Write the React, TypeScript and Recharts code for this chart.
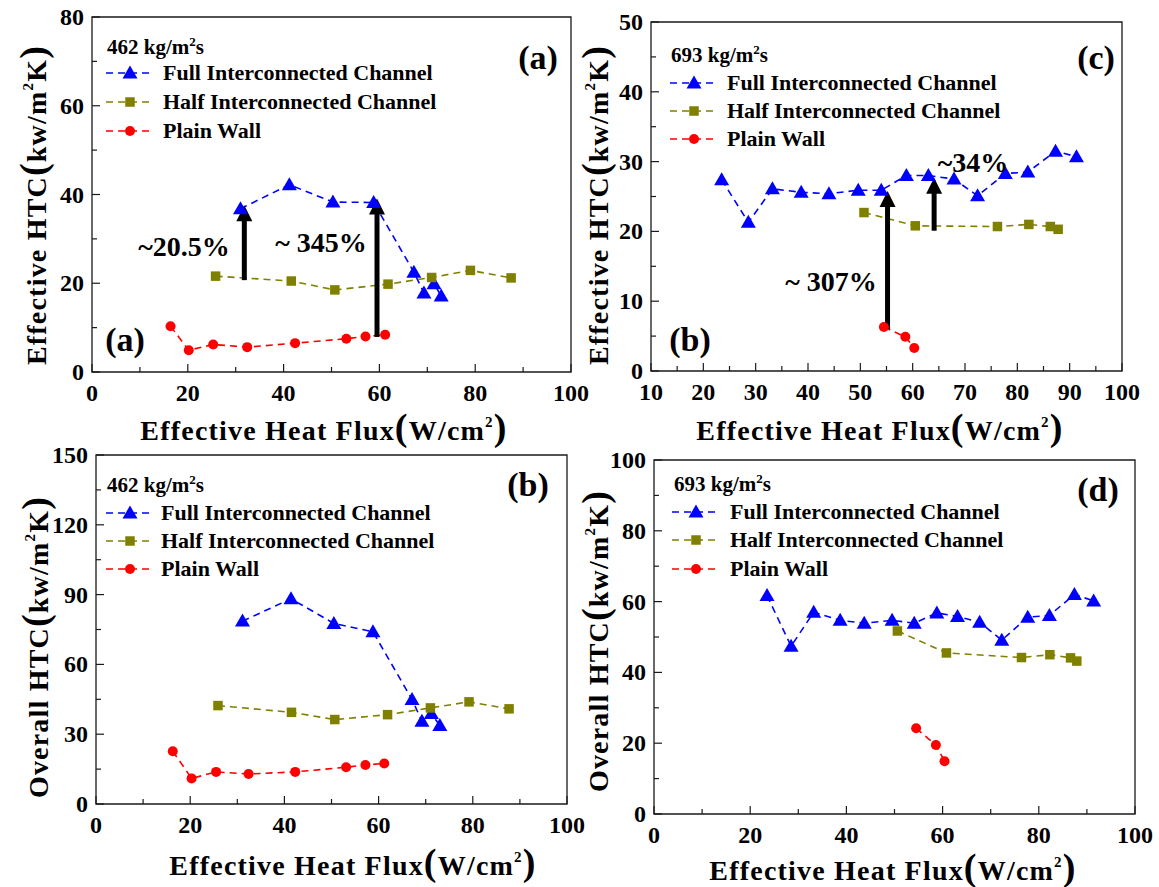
import React from 'react'
import { LineChart, Line, XAxis, YAxis, ReferenceArea, ReferenceLine } from 'recharts'

const FONT = '"Liberation Serif", "Times New Roman", serif'
const INK = '#000'
const FRAME = '#1a1a1a'
const BLUE = '#0000ff'
const OLIVE = '#808000'
const RED = '#ff0000'

type Pt = [number, number]

// effective HTC (kW/m2K) vs effective heat flux (W/cm2), G = 462 kg/m2s
const effFull462: Pt[] = [[31.0, 36.8], [41.2, 42.2], [50.3, 38.3], [58.8, 38.2], [67.2, 22.5], [69.3, 17.8], [71.4, 19.9], [72.9, 17.1]]
const effHalf462: Pt[] = [[25.8, 21.6], [41.6, 20.5], [50.7, 18.5], [61.8, 19.8], [70.9, 21.3], [79.0, 22.9], [87.5, 21.2]]
const effPlain462: Pt[] = [[16.4, 10.3], [20.2, 4.9], [25.3, 6.2], [32.4, 5.6], [42.4, 6.5], [53.1, 7.5], [57.1, 8.0], [61.2, 8.4]]
// arrows: [flux, from, to]
const effArrows462 = [[31.8, 20.7, 37.6], [59.5, 7.9, 39.1]]

// effective HTC, G = 693 kg/m2s
const effFull693: Pt[] = [[23.5, 27.4], [28.6, 21.3], [33.2, 26.1], [38.7, 25.6], [44.0, 25.4], [49.6, 25.9], [54.0, 25.9], [58.8, 28.0], [63.0, 28.0], [67.9, 27.5], [72.4, 25.1], [77.7, 28.3], [82.0, 28.5], [87.3, 31.5], [91.3, 30.7]]
const effHalf693: Pt[] = [[50.7, 22.7], [60.5, 20.8], [76.2, 20.7], [82.2, 21.0], [86.3, 20.7], [87.8, 20.3]]
const effPlain693: Pt[] = [[54.5, 6.3], [58.6, 4.9], [60.3, 3.3]]
const effArrows693 = [[55.2, 6.0, 25.8], [64.1, 20.1, 27.7]]

// overall HTC, G = 462 kg/m2s
const allFull462: Pt[] = [[31.1, 78.6], [41.4, 88.2], [50.5, 77.6], [58.8, 74.0], [67.1, 44.9], [69.2, 35.6], [71.2, 38.9], [73.0, 33.7]]
const allHalf462: Pt[] = [[25.9, 42.3], [41.5, 39.4], [50.7, 36.3], [61.9, 38.4], [71.0, 41.3], [79.2, 43.9], [87.7, 40.9]]
const allPlain462: Pt[] = [[16.3, 22.7], [20.3, 11.0], [25.5, 13.8], [32.4, 12.9], [42.3, 13.8], [53.1, 15.8], [57.2, 16.8], [61.2, 17.4]]

// overall HTC, G = 693 kg/m2s
const allFull693: Pt[] = [[23.5, 61.7], [28.5, 47.4], [33.2, 57.0], [38.7, 54.7], [43.7, 53.9], [49.5, 54.7], [54.1, 53.9], [58.8, 56.8], [63.1, 55.8], [67.7, 54.2], [72.3, 49.1], [77.7, 55.6], [82.2, 56.1], [87.4, 62.0], [91.4, 60.2]]
const allHalf693: Pt[] = [[50.6, 51.7], [60.8, 45.5], [76.4, 44.2], [82.3, 45.0], [86.6, 44.1], [87.9, 43.2]]
const allPlain693: Pt[] = [[54.5, 24.2], [58.6, 19.5], [60.4, 14.9]]

// axis ticks (every tick drawn, only the major ones labelled)
const fluxTicks = [0, 10, 20, 30, 40, 50, 60, 70, 80, 90, 100]
const fluxTicksFrom10 = [10, 15, 20, 25, 30, 35, 40, 45, 50, 55, 60, 65, 70, 75, 80, 85, 90, 95, 100]
const effTicks462 = [0, 10, 20, 30, 40, 50, 60, 70, 80]
const effTicks693 = [0, 5, 10, 15, 20, 25, 30, 35, 40, 45, 50]
const allTicks462 = [0, 15, 30, 45, 60, 75, 90, 105, 120, 135, 150]
const allTicks693 = [0, 10, 20, 30, 40, 50, 60, 70, 80, 90, 100]

const SERIES = [
  { name: 'Full Interconnected Channel', color: BLUE, kind: 'tri' },
  { name: 'Half Interconnected Channel', color: OLIVE, kind: 'sq' },
  { name: 'Plain Wall', color: RED, kind: 'dot' },
]

const toRows = (pts: Pt[]) => pts.map(([x, y]) => ({ x, y }))

function Marker({ kind, cx, cy, color }: any) {
  if (kind === 'tri') return <path d={`M${cx},${cy - 7.5}L${cx + 7.5},${cy + 5.5}L${cx - 7.5},${cy + 5.5}Z`} fill={color} />
  if (kind === 'sq') return <rect x={cx - 4.75} y={cy - 4.75} width={9.5} height={9.5} fill={color} />
  return <circle cx={cx} cy={cy} r={5} fill={color} />
}

function XTick({ x, y, payload, every }: any) {
  const v = payload.value
  const major = v % every === 0
  return (
    <g>
      <line x1={x} y1={y} x2={x} y2={y - (major ? 8 : 5)} stroke={FRAME} strokeWidth={1.2} />
      {major && (
        <text x={x} y={y + 29} textAnchor="middle" fontFamily={FONT} fontWeight={700} fontSize={24} fill={INK}>
          {v}
        </text>
      )}
    </g>
  )
}

function YTick({ x, y, payload, every }: any) {
  const v = payload.value
  const major = v % every === 0
  return (
    <g>
      <line x1={x} y1={y} x2={x + (major ? 8 : 5)} y2={y} stroke={FRAME} strokeWidth={1.2} />
      {major && (
        <text x={x - 8} y={y + 8} textAnchor="end" fontFamily={FONT} fontWeight={700} fontSize={24} fill={INK}>
          {v}
        </text>
      )}
    </g>
  )
}

// thick vertical arrow, head at the "to" end
function Arrow(props: any) {
  const { x1, y1, y2 } = props
  const top = Math.min(y1, y2)
  const bottom = Math.max(y1, y2)
  return (
    <g>
      <line x1={x1} y1={bottom} x2={x1} y2={top + 12} stroke={INK} strokeWidth={5} />
      <path d={`M${x1},${top}L${x1 + 8},${top + 16}L${x1 - 8},${top + 16}Z`} fill={INK} />
    </g>
  )
}

const PAD = 25

function ChartPanel({ plot, xDomain, xTicks, xEvery, yDomain, yTicks, yEvery, curves, arrows }: any) {
  const [px, py, pw, ph] = plot
  return (
    <div style={{ position: 'absolute', left: px - 50, top: py - PAD }}>
      <LineChart width={pw + 100} height={ph + PAD + 40} margin={{ top: PAD, right: 50, bottom: 0, left: 0 }}>
        <XAxis
          type="number"
          dataKey="x"
          domain={xDomain}
          ticks={xTicks}
          interval={0}
          allowDataOverflow
          height={40}
          axisLine={false}
          tickLine={false}
          tickSize={0}
          tickMargin={0}
          tick={(p: any) => <XTick {...p} every={xEvery} />}
        />
        <YAxis
          type="number"
          domain={yDomain}
          ticks={yTicks}
          interval={0}
          allowDataOverflow
          width={50}
          axisLine={false}
          tickLine={false}
          tickSize={0}
          tickMargin={0}
          tick={(p: any) => <YTick {...p} every={yEvery} />}
        />
        <ReferenceArea
          x1={xDomain[0]}
          x2={xDomain[1]}
          y1={yDomain[0]}
          y2={yDomain[1]}
          fill="none"
          stroke={FRAME}
          strokeWidth={1.3}
          ifOverflow="visible"
        />
        {curves.map((pts: Pt[], i: number) => (
          <Line
            key={SERIES[i].kind}
            data={toRows(pts)}
            dataKey="y"
            stroke={SERIES[i].color}
            strokeWidth={1.6}
            strokeDasharray="7 5"
            isAnimationActive={false}
            activeDot={false}
            dot={(d: any) => <Marker key={`${SERIES[i].kind}${d.index}`} kind={SERIES[i].kind} cx={d.cx} cy={d.cy} color={SERIES[i].color} />}
          />
        ))}
        {(arrows || []).map(([x, from, to]: number[], i: number) => (
          <ReferenceLine key={`arrow${i}`} segment={[{ x, y: from }, { x, y: to }]} shape={Arrow} ifOverflow="visible" />
        ))}
      </LineChart>
    </div>
  )
}

const textBase: React.CSSProperties = {
  position: 'absolute',
  fontFamily: FONT,
  fontWeight: 700,
  color: INK,
  whiteSpace: 'nowrap',
  lineHeight: 1,
}

function Centered({ cx, cy, size, children }: any) {
  return <div style={{ ...textBase, left: cx, top: cy, fontSize: size, transform: 'translate(-50%, -50%)' }}>{children}</div>
}

function AxisTitle({ cx, cy, text, unit, vertical }: any) {
  return (
    <div
      style={{
        ...textBase,
        left: cx,
        top: cy,
        fontSize: 28,
        letterSpacing: 1.2,
        transform: `translate(-50%, -50%)${vertical ? ' rotate(-90deg)' : ''}`,
      }}
    >
      {text}
      <span style={{ fontSize: 38 }}>(</span>
      {unit[0]}
      <span style={{ fontSize: 15, position: 'relative', top: -13 }}>2</span>
      {unit[1]}
      <span style={{ fontSize: 38 }}>)</span>
    </div>
  )
}

function KeyBlock({ flux, x, y, lineX, textX, rows }: any) {
  return (
    <>
      <div style={{ ...textBase, left: x, top: y, fontSize: 21, transform: 'translateY(-50%)' }}>
        {flux} kg/m<span style={{ fontSize: 13, position: 'relative', top: -8 }}>2</span>s
      </div>
      {SERIES.map((s, i) => (
        <React.Fragment key={s.kind}>
          <svg style={{ position: 'absolute', left: lineX, top: rows[i] - 10 }} width={44} height={20}>
            <line x1={0} y1={10} x2={44} y2={10} stroke={s.color} strokeWidth={1.6} strokeDasharray="7 5" />
            <Marker kind={s.kind} cx={24} cy={10} color={s.color} />
          </svg>
          <div style={{ ...textBase, left: textX, top: rows[i], fontSize: 22, transform: 'translateY(-50%)' }}>{s.name}</div>
        </React.Fragment>
      ))}
    </>
  )
}

export default function App() {
  return (
    <div style={{ position: 'absolute', left: 0, top: 0, width: 1159, height: 887, background: '#fff', overflow: 'hidden' }}>
      <ChartPanel
        plot={[92, 17, 479, 355]}
        xDomain={[0, 100]}
        xTicks={fluxTicks}
        xEvery={20}
        yDomain={[0, 80]}
        yTicks={effTicks462}
        yEvery={20}
        curves={[effFull462, effHalf462, effPlain462]}
        arrows={effArrows462}
      />
      <ChartPanel
        plot={[651, 22, 471, 349]}
        xDomain={[10, 100]}
        xTicks={fluxTicksFrom10}
        xEvery={10}
        yDomain={[0, 50]}
        yTicks={effTicks693}
        yEvery={10}
        curves={[effFull693, effHalf693, effPlain693]}
        arrows={effArrows693}
      />
      <ChartPanel
        plot={[96, 455, 471, 349]}
        xDomain={[0, 100]}
        xTicks={fluxTicks}
        xEvery={20}
        yDomain={[0, 150]}
        yTicks={allTicks462}
        yEvery={30}
        curves={[allFull462, allHalf462, allPlain462]}
      />
      <ChartPanel
        plot={[654, 460, 481, 354]}
        xDomain={[0, 100]}
        xTicks={fluxTicks}
        xEvery={20}
        yDomain={[0, 100]}
        yTicks={allTicks693}
        yEvery={20}
        curves={[allFull693, allHalf693, allPlain693]}
      />

      <AxisTitle cx={33} cy={205} text="Effective HTC" unit={['kw/m', 'K']} vertical />
      <AxisTitle cx={324} cy={427} text="Effective Heat Flux" unit={['W/cm', '']} />
      <AxisTitle cx={595} cy={205} text="Effective HTC" unit={['kw/m', 'K']} vertical />
      <AxisTitle cx={880} cy={427} text="Effective Heat Flux" unit={['W/cm', '']} />
      <AxisTitle cx={35} cy={647} text="Overall HTC" unit={['kw/m', 'K']} vertical />
      <AxisTitle cx={353} cy={862} text="Effective Heat Flux" unit={['W/cm', '']} />
      <AxisTitle cx={595} cy={641} text="Overall HTC" unit={['kw/m', 'K']} vertical />
      <AxisTitle cx={893} cy={867} text="Effective Heat Flux" unit={['W/cm', '']} />

      <KeyBlock flux={462} x={107} y={47} lineX={106} textX={163} rows={[73, 102, 131]} />
      <KeyBlock flux={693} x={671} y={55} lineX={670} textX={727} rows={[83, 111, 139]} />
      <KeyBlock flux={462} x={107} y={485} lineX={106} textX={161} rows={[513, 541, 569]} />
      <KeyBlock flux={693} x={674} y={484} lineX={672} textX={730} rows={[512, 540, 569]} />

      <Centered cx={538} cy={58} size={34}>(a)</Centered>
      <Centered cx={125} cy={340} size={34}>(a)</Centered>
      <Centered cx={1096} cy={58} size={34}>(c)</Centered>
      <Centered cx={690} cy={340} size={34}>(b)</Centered>
      <Centered cx={528} cy={485} size={34}>(b)</Centered>
      <Centered cx={1098} cy={490} size={34}>(d)</Centered>

      <Centered cx={184} cy={247} size={28}>~20.5%</Centered>
      <Centered cx={321} cy={243} size={28}>~ 345%</Centered>
      <Centered cx={973} cy={163} size={28}>~34%</Centered>
      <Centered cx={831} cy={282} size={28}>~ 307%</Centered>
    </div>
  )
}
